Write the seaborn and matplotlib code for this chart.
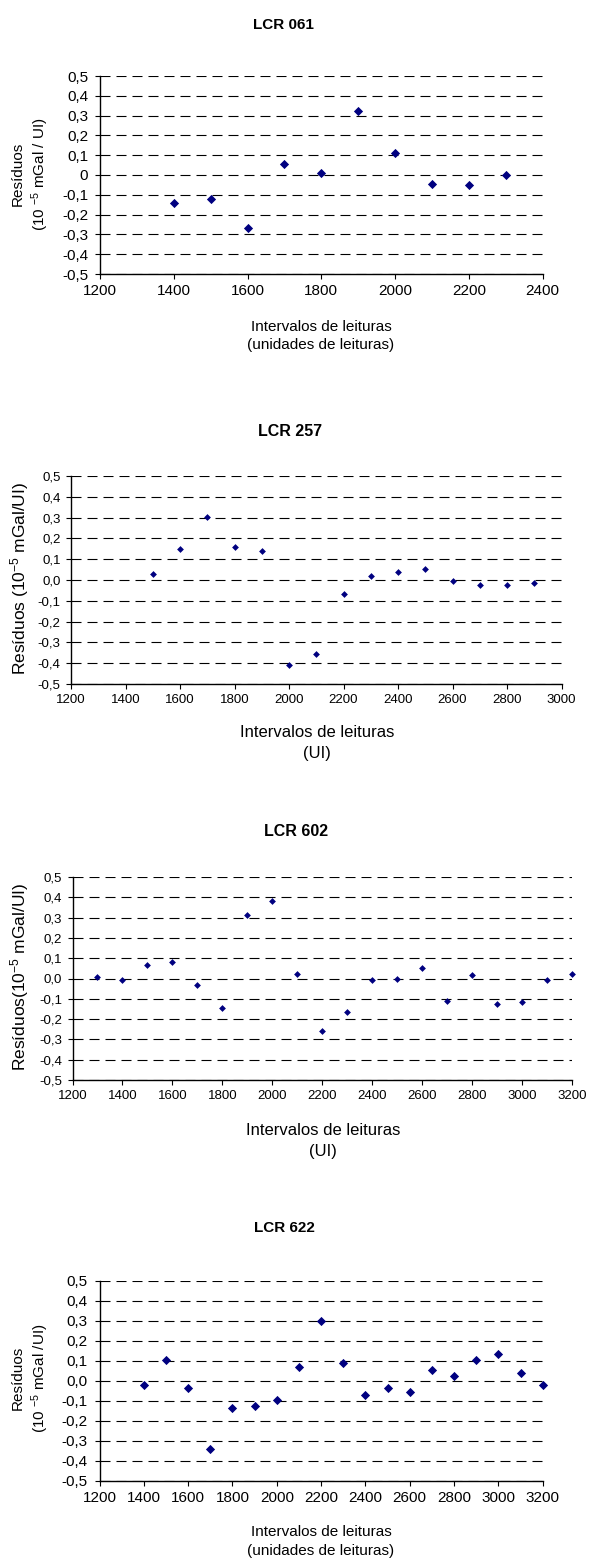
import matplotlib
matplotlib.use("Agg")
import matplotlib.pyplot as plt
import seaborn as sns
import pandas as pd

# ---------------- data ----------------
titles = ["LCR 061", "LCR 257", "LCR 602", "LCR 622"]

x_061 = [1400, 1500, 1600, 1700, 1800, 1900, 2000, 2100, 2200, 2300]
y_061 = [-0.142, -0.121, -0.267, 0.055, 0.009, 0.325, 0.113, -0.047, -0.053, 0.0]

x_257 = [1500, 1600, 1700, 1800, 1900, 2000, 2100, 2200, 2300, 2400, 2500,
         2600, 2700, 2800, 2900]
y_257 = [0.027, 0.151, 0.305, 0.160, 0.139, -0.408, -0.355, -0.065, 0.017,
         0.038, 0.054, -0.006, -0.022, -0.022, -0.015]

x_602 = [1300, 1400, 1500, 1600, 1700, 1800, 1900, 2000, 2100, 2200, 2300,
         2400, 2500, 2600, 2700, 2800, 2900, 3000, 3100, 3200]
y_602 = [0.005, -0.006, 0.066, 0.082, -0.034, -0.146, 0.311, 0.382, 0.023,
         -0.261, -0.167, -0.007, -0.002, 0.054, -0.111, 0.016, -0.128, -0.116,
         -0.007, 0.023]

x_622 = [1400, 1500, 1600, 1700, 1800, 1900, 2000, 2100, 2200, 2300, 2400,
         2500, 2600, 2700, 2800, 2900, 3000, 3100, 3200]
y_622 = [-0.019, 0.103, -0.034, -0.342, -0.135, -0.126, -0.098, 0.067, 0.298,
         0.089, -0.069, -0.034, -0.056, 0.054, 0.024, 0.103, 0.133, 0.039,
         -0.019]

y_ticks = [-0.5, -0.4, -0.3, -0.2, -0.1, 0.0, 0.1, 0.2, 0.3, 0.4, 0.5]
y_labels_a = ["-0,5", "-0,4", "-0,3", "-0,2", "-0,1", "0", "0,1", "0,2", "0,3", "0,4", "0,5"]
y_labels_b = ["-0,5", "-0,4", "-0,3", "-0,2", "-0,1", "0,0", "0,1", "0,2", "0,3", "0,4", "0,5"]

x_ticks_061 = [1200, 1400, 1600, 1800, 2000, 2200, 2400]
x_ticks_257 = [1200, 1400, 1600, 1800, 2000, 2200, 2400, 2600, 2800, 3000]
x_ticks_602 = [1200, 1400, 1600, 1800, 2000, 2200, 2400, 2600, 2800, 3000, 3200]
x_ticks_622 = [1200, 1400, 1600, 1800, 2000, 2200, 2400, 2600, 2800, 3000, 3200]

x_labels = [
    "Intervalos de leituras\n(unidades de leituras)",
    "Intervalos de leituras\n(UI)",
    "Intervalos de leituras\n(UI)",
    "Intervalos de leituras\n(unidades de leituras)",
]
y_label_texts = [
    "Resíduos\n(10 $^{-5}$ mGal / UI)",
    "Resíduos (10$^{-5}$ mGal/UI)",
    "Resíduos(10$^{-5}$ mGal/UI)",
    "Resíduos\n(10 $^{-5}$ mGal /UI)",
]

# ---------------- style ----------------
sns.set_theme(style="white")
plt.rcParams["font.family"] = ["Liberation Sans", "DejaVu Sans"]
plt.rcParams["mathtext.fontset"] = "custom"
plt.rcParams["mathtext.rm"] = "Liberation Sans"
plt.rcParams["mathtext.it"] = "Liberation Sans:italic"
plt.rcParams["mathtext.bf"] = "Liberation Sans:bold"

W, H = 589, 1559
fig = plt.figure(figsize=(W / 100, H / 100), dpi=100)

def fx(px):
    return px / W

def fy(py):
    return 1 - py / H

panels = [
    dict(x=x_061, y=y_061, xt=x_ticks_061, yl=y_labels_a, box=(100, 76, 542.7, 274),
         title_xy=(283.5, 25), xlab_xy=(321, 336), ylab_xy=(31, 174),
         tick_fs=11, xlab_fs=11, ylab_fs=11, title_fs=11, ms=22, ypad=5),
    dict(x=x_257, y=y_257, xt=x_ticks_257, yl=y_labels_b, box=(71, 476, 561.5, 684),
         title_xy=(290, 432), xlab_xy=(317, 743), ylab_xy=(20, 578),
         tick_fs=9.5, xlab_fs=12, ylab_fs=12.5, title_fs=11.5, ms=12, ypad=4),
    dict(x=x_602, y=y_602, xt=x_ticks_602, yl=y_labels_b, box=(72.5, 877, 572, 1080),
         title_xy=(296, 832), xlab_xy=(323, 1141), ylab_xy=(20, 977),
         tick_fs=9.5, xlab_fs=12, ylab_fs=12.5, title_fs=11.5, ms=12, ypad=4),
    dict(x=x_622, y=y_622, xt=x_ticks_622, yl=y_labels_b, box=(99.5, 1281, 542.7, 1480.5),
         title_xy=(284, 1228), xlab_xy=(321, 1541.5), ylab_xy=(31, 1378),
         tick_fs=11, xlab_fs=11, ylab_fs=11, title_fs=11, ms=22, ypad=5),
]

for i, p in enumerate(panels):
    l, t, r, b = p["box"]
    ax = fig.add_axes([fx(l), fy(b), fx(r) - fx(l), fy(t) - fy(b)])
    df = pd.DataFrame({"x": p["x"], "y": p["y"]})
    sns.scatterplot(data=df, x="x", y="y", ax=ax, marker="D", color="#000080",
                    s=p["ms"], linewidth=0, clip_on=False, zorder=3, legend=False)
    ax.set_xlim(p["xt"][0], p["xt"][-1])
    ax.set_ylim(-0.5, 0.5)
    ax.set_xticks(p["xt"])
    ax.set_xticklabels([str(v) for v in p["xt"]], fontsize=p["tick_fs"])
    ax.set_yticks(y_ticks)
    ax.set_yticklabels(p["yl"], fontsize=p["tick_fs"])
    ax.tick_params(axis="both", which="major", bottom=True, left=True,
                   direction="out", length=3.5, width=0.8, color="black",
                   labelcolor="black")
    ax.tick_params(axis="x", pad=4)
    ax.tick_params(axis="y", pad=p["ypad"])
    for s in ["top", "right"]:
        ax.spines[s].set_visible(False)
    for s in ["left", "bottom"]:
        ax.spines[s].set_color("black")
        ax.spines[s].set_linewidth(1.0)
    ax.yaxis.grid(True, color="black", linestyle=(0, (9, 5.4)), linewidth=0.8)
    ax.xaxis.grid(False)
    ax.set_axisbelow(True)

    ax.set_xlabel(x_labels[i], fontsize=p["xlab_fs"], linespacing=1.45,
                  color="black")
    ax.xaxis.label.set_va("center")
    ax.xaxis.set_label_coords(fx(p["xlab_xy"][0]), fy(p["xlab_xy"][1]),
                              transform=fig.transFigure)
    ax.set_ylabel(y_label_texts[i], fontsize=p["ylab_fs"], linespacing=1.3,
                  color="black")
    ax.yaxis.label.set_va("center")
    ax.yaxis.set_label_coords(fx(p["ylab_xy"][0]), fy(p["ylab_xy"][1]),
                              transform=fig.transFigure)

    fig.text(fx(p["title_xy"][0]), fy(p["title_xy"][1]), titles[i],
             ha="center", va="center", fontsize=p["title_fs"], fontweight="bold",
             color="black")

fig.savefig("out.png", dpi=100, facecolor="white")
